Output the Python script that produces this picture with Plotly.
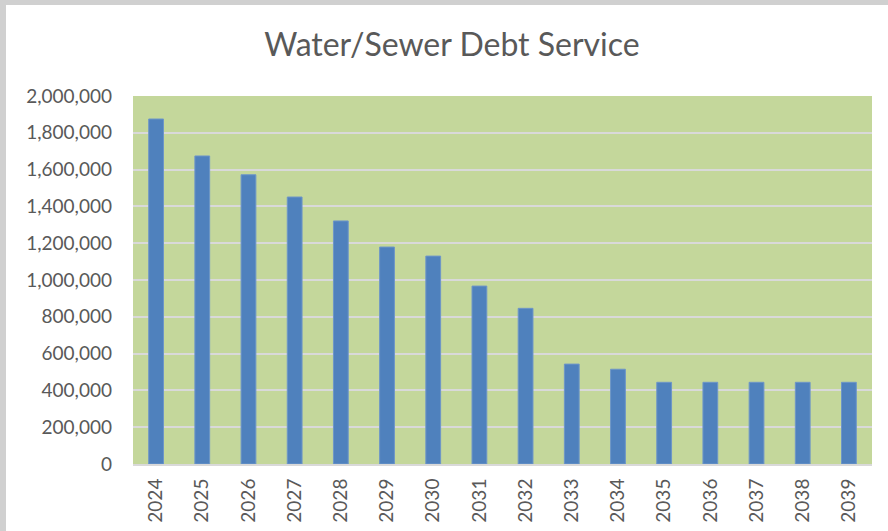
import plotly.graph_objects as go

years = ["2024", "2025", "2026", "2027", "2028", "2029", "2030", "2031",
         "2032", "2033", "2034", "2035", "2036", "2037", "2038", "2039"]
debt_service = [1875000, 1674000, 1572000, 1451000, 1321000, 1179000, 1130000, 967000,
                846000, 543000, 515000, 444000, 444000, 444000, 444000, 444000]
y_ticks = [0, 200000, 400000, 600000, 800000, 1000000, 1200000, 1400000,
           1600000, 1800000, 2000000]
y_tick_labels = ["0", "200,000", "400,000", "600,000", "800,000", "1,000,000",
                 "1,200,000", "1,400,000", "1,600,000", "1,800,000", "2,000,000"]

W, H = 888, 531
L, R, T, B = 133, 16, 96, 67
pw, ph = W - L - R, H - T - B

fig = go.Figure()
fig.add_trace(go.Bar(
    x=years, y=debt_service,
    marker=dict(color="#4F81BD", line=dict(color="#6E96C8", width=1)),
))

def px_x(p):
    return (p - L) / pw

def px_y(p):
    return (H - B - p) / ph

fig.update_layout(
    width=W, height=H,
    margin=dict(l=L, r=R, t=T, b=B, autoexpand=False),
    paper_bgcolor="white",
    plot_bgcolor="#C4D79B",
    bargap=0.68,
    showlegend=False,
    font=dict(family="Lato", size=19, color="#595959"),
    title=dict(text="Water/Sewer Debt Service", x=452 / W, xanchor="center",
               y=1 - 45 / H, yanchor="middle",
               font=dict(family="Lato", size=32, color="#595959")),
    xaxis=dict(type="category", tickangle=-90, showgrid=False,
               showline=True, linecolor="#D9D9D9", linewidth=2,
               ticks="", ticklabelstandoff=5, automargin=False,
               tickfont=dict(size=19, color="#595959")),
    yaxis=dict(range=[0, 2000000], tickvals=y_ticks, ticktext=y_tick_labels,
               showgrid=True, gridcolor="#D9D9D9", gridwidth=2,
               zeroline=False, showline=False, ticks="",
               ticklabelstandoff=20, automargin=False,
               tickfont=dict(size=19, color="#595959")),
    shapes=[
        dict(type="rect", xref="paper", yref="paper",
             x0=px_x(0), x1=px_x(W), y0=px_y(5), y1=px_y(0),
             fillcolor="#D0D0D0", line=dict(width=0), layer="above"),
        dict(type="rect", xref="paper", yref="paper",
             x0=px_x(0), x1=px_x(6), y0=px_y(H), y1=px_y(0),
             fillcolor="#D0D0D0", line=dict(width=0), layer="above"),
    ],
)

fig.write_html(
    "out.html",
    config={"displayModeBar": False},
    post_script="document.body.style.margin='0';document.body.style.overflow='hidden';",
)
